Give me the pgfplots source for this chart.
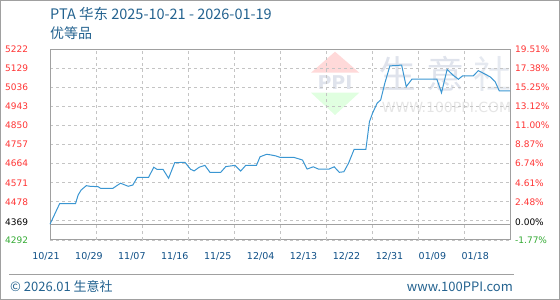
\documentclass[border=0pt]{standalone}
\usepackage{pgfplots}
\pgfplotsset{compat=1.18}
\usepackage{fontspec}
\setmainfont{DejaVu Sans}
\newfontfamily\cjk{Noto Sans CJK SC}
\definecolor{linec}{HTML}{3A96D2}
\definecolor{titlec}{HTML}{23628F}
\definecolor{tickc}{HTML}{0E4F86}
\definecolor{redc}{HTML}{FF3333}
\definecolor{greenc}{HTML}{33AA33}
\definecolor{gridc}{HTML}{C4C4C4}
\definecolor{framec}{HTML}{A0A0A0}
\definecolor{wm}{HTML}{DFE3EC}
\begin{document}
\begin{tikzpicture}[x=1pt,y=1pt]
\useasboundingbox (0,0) rectangle (560,300);
\draw[framec,line width=1pt] (0.5,0.5) rectangle (559.5,299.5);
% title
\node[anchor=base west,inner sep=0pt,text=titlec,font=\cjk\fontsize{14.5}{15}\selectfont] at (50,280.5) {PTA 华东 2025-10-21 - 2026-01-19};
\node[anchor=base west,inner sep=0pt,text=titlec,font=\cjk\fontsize{14}{15}\selectfont] at (50,261) {优等品};
% watermark
\fill[red!15] (335,248.3) -- (359.3,227.3) -- (311,227.3) -- cycle;
\fill[green!12] (311,207.3) -- (359.3,207.3) -- (335,185) -- cycle;
\node[text=wm,font=\bfseries\fontsize{19}{19}\selectfont,inner sep=0pt] at (335,217) {PPI};
\node[text=wm,font=\cjk\fontsize{38}{38}\selectfont,inner sep=0pt] at (397.5,226.5) {生};
\node[text=wm,font=\cjk\fontsize{38}{38}\selectfont,inner sep=0pt] at (445,226.5) {意};
\node[text=wm!80,font=\cjk\fontsize{38}{38}\selectfont,inner sep=0pt] at (492.5,226.5) {社};
\node[text=black!10,font=\fontsize{14}{14}\selectfont,inner sep=0pt] at (446.5,193) {WWW.100PPI.COM};
\begin{axis}[
  at={(50pt,60pt)}, anchor=south west,
  scale only axis, width=460pt, height=190.7pt,
  xmin=0, xmax=90, ymin=4292, ymax=5222,
  axis line style={framec, line width=1pt},
  major tick length=0pt,
  xtick={0,8.4,16.8,25.2,33.6,42,50.4,58.8,67.2,75.6,84},
  xticklabels={10/21,10/29,11/07,11/16,11/25,12/04,12/13,12/22,12/31,01/09,01/18},
  xticklabel style={anchor=center,inner sep=0pt,xshift=-4pt,yshift=-16.5pt,text=tickc,font=\fontsize{9.5}{10}\selectfont},
  extra x ticks={9,18,27,36,45,54,63,72,81},
  extra x tick labels={},
  extra x tick style={grid=major},
  ytick={4292,4385,4478,4571,4664,4757,4850,4943,5036,5129,5222},
  yticklabels={\textcolor{greenc}{4292},,4478,4571,4664,4757,4850,4943,5036,5129,5222},
  yticklabel style={anchor=west,inner sep=0pt,xshift=-45pt,text=redc,font=\fontsize{9}{10}\selectfont},
  ymajorgrids,
  grid style={gridc, dashed, line width=0.9pt},
  extra y ticks={4369},
  extra y tick labels={\textcolor{black}{4369}},
  extra y tick style={grid=major, major grid style={framec, solid, line width=1pt}, yticklabel style={yshift=1.5pt}},
  clip=false,
]
\addplot[linec, line width=1pt, mark=none] coordinates {
(0,4369) (1.9,4470) (5,4470) (5.5,4511) (6.1,4536) (7.1,4557) (7.8,4554) (9.4,4552)
(9.9,4544) (12.3,4544) (13.8,4569) (15.3,4554) (16.2,4560) (17.1,4598) (19.3,4598)
(20.3,4647) (20.9,4637) (22.1,4637) (23.2,4593) (24.4,4669) (26.4,4671) (27.5,4637)
(28.2,4629) (29.2,4647) (30.3,4656) (31.3,4622) (33.4,4622) (34.4,4650) (36.2,4656)
(37.3,4628) (38.3,4656) (40.4,4656) (41.1,4698) (42.4,4710) (43.2,4707) (44.2,4702)
(45.0,4695) (47.7,4695) (48.9,4686) (49.4,4682) (50.3,4638) (51.5,4649) (52.5,4638)
(54.6,4638) (55.6,4649) (56.6,4622) (57.5,4625) (58.4,4666) (59.5,4734) (61.8,4734)
(62.5,4869) (63.1,4910) (64.0,4959) (64.7,4975) (65.5,5056) (66.5,5141) (68.8,5145)
(69.7,5040) (70.8,5076) (75.7,5076) (76.6,5010) (77.7,5124) (78.8,5097) (79.9,5076)
(80.7,5092) (82.8,5092) (83.8,5118) (84.8,5105) (86.1,5088) (87.1,5064) (87.9,5019)
(90,5019)
};
\end{axis}
\begin{axis}[
  at={(50pt,60pt)}, anchor=south west,
  scale only axis, width=460pt, height=190.7pt,
  xmin=0, xmax=90, ymin=4292, ymax=5222,
  axis y line*=right, axis x line=none,
  axis line style={draw=none},
  major tick length=0pt,
  ytick={4292,4385,4478,4571,4664,4757,4850,4943,5036,5129,5222},
  yticklabels={\textcolor{greenc}{-1.77\%},,2.48\%,4.61\%,6.74\%,8.87\%,11.00\%,13.12\%,15.25\%,17.38\%,19.51\%},
  yticklabel style={anchor=west,inner sep=0pt,xshift=5pt,text=redc,font=\fontsize{9}{10}\selectfont},
  extra y ticks={4369},
  extra y tick labels={\textcolor{black}{0.00\%}},
  extra y tick style={yticklabel style={yshift=1.5pt}},
]
\addplot[draw=none] coordinates {(0,4369)};
\end{axis}
% footer
\draw[framec,line width=1pt] (9,25) -- (514,25);
\node[anchor=base west,inner sep=0pt,text=titlec,font=\cjk\fontsize{13}{13}\selectfont] at (10,9) {© 2026.01 生意社};
\node[anchor=base east,inner sep=0pt,text=titlec,font=\cjk\fontsize{13}{13}\selectfont] at (513,9) {www.100PPI.com};
\end{tikzpicture}
\end{document}
